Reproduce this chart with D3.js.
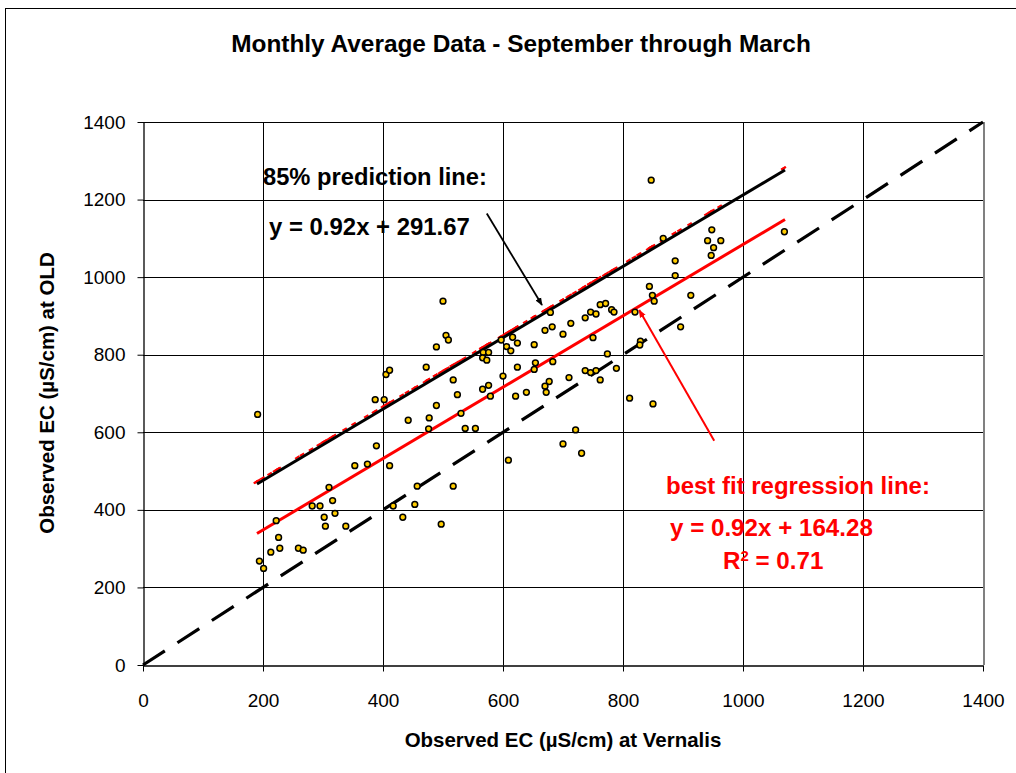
<!DOCTYPE html>
<html><head><meta charset="utf-8">
<script src="https://cdn.jsdelivr.net/npm/d3@7"></script>
<style>body{margin:0;background:#fff}svg{display:block}text{font-family:"Liberation Sans",Arial,sans-serif}</style>
</head><body>
<svg id="c" width="1016" height="773"></svg>
<script>
// ---- data ----
const vernalisEC = [191,405,411,472,387,402,442,477,476,389,353,374,411,310,316,282,295,302,320,304,338,222,226,213,228,259,267,194,201,417,433,453,457,
500,505,509,489,517,524,489,530,537,554,567,576,566,573,597,606,613,616,624,600,566,576,579,624,652,654,652,621,639,670,682,679,700,713,737,746,755,762,771,750,683,677,670,672,710,737,746,755,762,774,721,
517,497,609,700,731,847,867,941,948,963,951,947,887,887,844,849,852,913,820,896,829,828,789,1069,781,785,811,850];
const oldEC = [646,749,760,768,684,684,631,637,609,565,514,518,514,458,424,410,410,381,391,358,358,372,329,291,301,301,296,268,249,410,381,414,461,
938,850,838,820,735,697,669,649,610,610,806,806,792,786,838,821,810,845,830,745,711,721,693,768,826,779,762,693,703,863,872,909,853,881,895,910,905,929,932,844,782,731,719,703,741,759,754,759,735,802,606,
461,363,528,570,546,1250,1100,1094,1122,1094,1076,1056,1042,1004,976,953,938,953,910,872,835,825,765,1117,916,910,688,673];
const axisTicks = [0,200,400,600,800,1000,1200,1400];
const slope = 0.92;
const fitIntercept = 164.28;
const predIntercept = 291.67;
const lineRange = [190,1070];
const oneToOne = [0,1400];
const titleText = "Monthly Average Data - September through March";
const xTitle = "Observed EC (µS/cm) at Vernalis";
const yTitle = "Observed EC (µS/cm) at OLD";

// ---- chart ----
const svg = d3.select("#c");
const x = d3.scaleLinear().domain([0,1400]).range([143,983]);
const y = d3.scaleLinear().domain([0,1400]).range([665,122]);

svg.append("rect").attr("x",5.5).attr("y",8.5).attr("width",1020).attr("height",780)
  .attr("fill","#fff").attr("stroke","#000").attr("stroke-width",1);

function fit(sel, target){
  const n = sel.node(); const fs = parseFloat(sel.attr("font-size"));
  const w = n.getComputedTextLength(); const nf = fs*target/w; sel.attr("font-size", nf); return nf;
}

// gridlines
const g = svg.append("g");
g.selectAll(".hg").data(axisTicks.slice(1)).join("line")
  .attr("x1",x(0)).attr("x2",x(1400)).attr("y1",d=>Math.round(y(d))+0.5).attr("y2",d=>Math.round(y(d))+0.5)
  .attr("stroke","#000").attr("stroke-width",1);
g.selectAll(".vg").data(axisTicks.slice(1,-1)).join("line")
  .attr("y1",y(0)).attr("y2",y(1400)).attr("x1",d=>Math.round(x(d))+0.5).attr("x2",d=>Math.round(x(d))+0.5)
  .attr("stroke","#000").attr("stroke-width",1);
g.append("line").attr("x1",x(1400)+1).attr("x2",x(1400)+1).attr("y1",y(0)).attr("y2",y(1400))
  .attr("stroke","#808080").attr("stroke-width",2);

// axes
const fmt = d3.format("d");
const xa = svg.append("g").attr("transform",`translate(0,${Math.round(y(0))+0.5})`)
  .call(d3.axisBottom(x).tickValues(axisTicks).tickFormat(fmt).tickSize(6).tickSizeOuter(0).tickPadding(22));
const ya = svg.append("g").attr("transform",`translate(${Math.round(x(0))+0.5},0)`)
  .call(d3.axisLeft(y).tickValues(axisTicks).tickFormat(fmt).tickSize(6).tickSizeOuter(0).tickPadding(13));
[xa,ya].forEach(a=>{
  a.attr("font-size",19).attr("font-family","Liberation Sans, Arial, sans-serif");
  a.select(".domain").attr("stroke","#000").attr("stroke-width",1.3);
  a.selectAll(".tick line").attr("stroke","#000");
  a.selectAll("text").attr("font-size",19).attr("fill","#000");
});
ya.selectAll("text").attr("x",-18);

// 1:1 dashed
svg.append("line").attr("x1",x(oneToOne[0])).attr("y1",y(oneToOne[0])).attr("x2",x(oneToOne[1])).attr("y2",y(oneToOne[1]))
  .attr("stroke","#000").attr("stroke-width",3.2).attr("stroke-dasharray","26,15");

// prediction markers (red) and line
const pxSlope = (y(1)-y(0))/(x(1)-x(0))*slope;
const ang = Math.atan(pxSlope);
const off = 2.3;
const predXs = [...vernalisEC, lineRange[0], lineRange[1]];
svg.append("g").selectAll("line").data(predXs).join("line")
  .attr("x1",d=>x(d)-2.5*Math.cos(ang)+off*Math.sin(ang))
  .attr("y1",d=>y(slope*d+predIntercept)-2.5*Math.sin(ang)-off*Math.cos(ang))
  .attr("x2",d=>x(d)+2.5*Math.cos(ang)+off*Math.sin(ang))
  .attr("y2",d=>y(slope*d+predIntercept)+2.5*Math.sin(ang)-off*Math.cos(ang))
  .attr("stroke","#ff0000").attr("stroke-width",2);
svg.append("line").attr("x1",x(lineRange[0])).attr("y1",y(slope*lineRange[0]+predIntercept))
  .attr("x2",x(lineRange[1])).attr("y2",y(slope*lineRange[1]+predIntercept))
  .attr("stroke","#000").attr("stroke-width",3);
// regression
svg.append("line").attr("x1",x(lineRange[0])).attr("y1",y(slope*lineRange[0]+fitIntercept))
  .attr("x2",x(lineRange[1])).attr("y2",y(slope*lineRange[1]+fitIntercept))
  .attr("stroke","#ff0000").attr("stroke-width",3);

// points
svg.append("g").selectAll("circle").data(vernalisEC.map((v,i)=>[v,oldEC[i]])).join("circle")
  .attr("cx",d=>x(d[0])).attr("cy",d=>y(d[1])).attr("r",2.9)
  .attr("fill","#FFCC00").attr("stroke","#000").attr("stroke-width",1.5);

// arrows
const defs = svg.append("defs");
[["ab","#000"],["ar","#ff0000"]].forEach(([id,c])=>{
  defs.append("marker").attr("id",id).attr("viewBox","0 0 10 10").attr("refX",9).attr("refY",5)
    .attr("markerWidth",8).attr("markerHeight",8).attr("orient","auto").attr("markerUnits","userSpaceOnUse")
    .append("path").attr("d","M0,1 L10,5 L0,9 z").attr("fill",c);
});
svg.append("line").attr("x1",x(573)).attr("y1",y(1164)).attr("x2",x(665)).attr("y2",y(928))
  .attr("stroke","#000").attr("stroke-width",1.8).attr("marker-end","url(#ab)");
svg.append("line").attr("x1",x(952)).attr("y1",y(578)).attr("x2",x(827)).attr("y2",y(915))
  .attr("stroke","#ff0000").attr("stroke-width",2).attr("marker-end","url(#ar)");

// texts
const T = (txt,xx,yy,fs,target,opts={})=>{
  const t = svg.append("text").attr("x",xx).attr("y",yy).attr("font-size",fs)
    .attr("font-weight",opts.normal?"normal":"bold").attr("fill",opts.color||"#000")
    .attr("text-anchor",opts.anchor||"start").text(txt);
  if(opts.rot) t.attr("transform",`rotate(-90,${xx},${yy})`);
  if(target) fit(t,target);
  return t;
};
T(titleText,521,52,19,580,{anchor:"middle"});
const xt = T(xTitle,563,747,15,317,{anchor:"middle"});
T(yTitle,54,393,parseFloat(xt.attr("font-size")),null,{anchor:"middle",rot:true});
T("85% prediction line:",263,185,18,224);
T("y = 0.92x + 291.67",269,235,18,201);
T("best fit regression line:",666,494,18,264,{color:"#ff0000"});
const eq2 = T("y = 0.92x + 164.28",670,536,18,203,{color:"#ff0000"});
const fs2 = parseFloat(eq2.attr("font-size"));
const r2 = svg.append("text").attr("x",723).attr("y",569).attr("font-weight","bold").attr("fill","#ff0000").attr("font-size",fs2);
r2.append("tspan").attr("font-size",fs2).text("R");
r2.append("tspan").attr("font-size",fs2*0.62).attr("dy",-8).text("2");
r2.append("tspan").attr("font-size",fs2).attr("dy",8).text(" = 0.71");
</script>
</body></html>
